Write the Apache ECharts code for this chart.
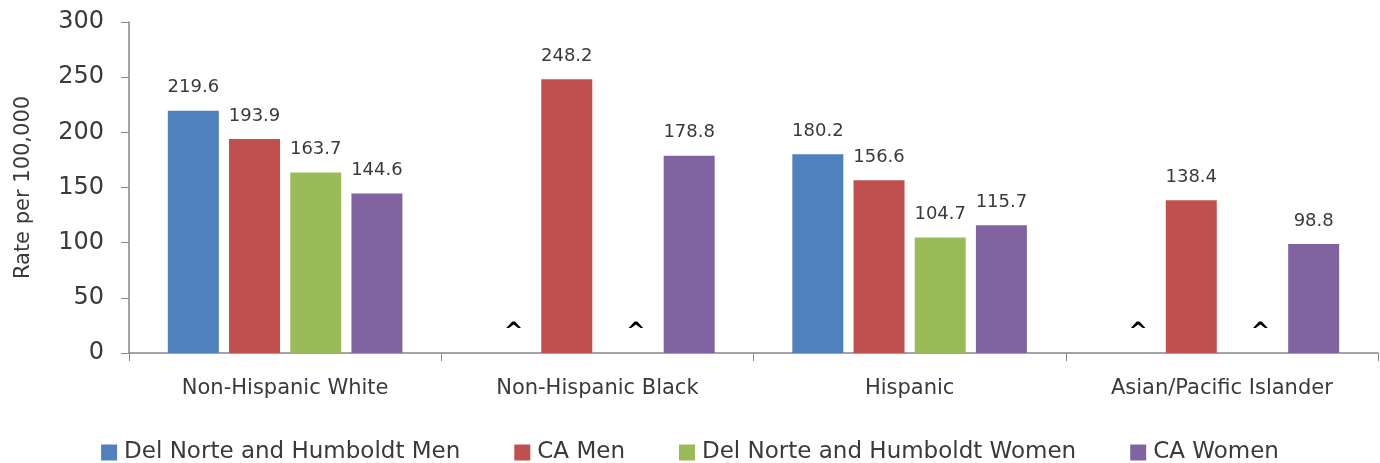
<!DOCTYPE html>
<html>
<head>
<meta charset="utf-8">
<script src="https://cdn.jsdelivr.net/npm/echarts@6/dist/echarts.min.js"></script>
<style>html,body{margin:0;padding:0;background:#fff}#c{width:1380px;height:463px}</style>
</head>
<body>
<div id="c"></div>
<script>
const categories = ['Non-Hispanic White', 'Non-Hispanic Black', 'Hispanic', 'Asian/Pacific Islander'];
const seriesNames = ['Del Norte and Humboldt Men', 'CA Men', 'Del Norte and Humboldt Women', 'CA Women'];
const dnMen = [219.6, null, 180.2, null];
const caMen = [193.9, 248.2, 156.6, 138.4];
const dnWomen = [163.7, null, 104.7, null];
const caWomen = [144.6, 178.8, 115.7, 98.8];
const colors = ['#4F81BD', '#C0504D', '#9BBB59', '#8064A2'];
const yTicks = [0, 50, 100, 150, 200, 250, 300];
const missingMark = '^';

const FONT = 'DejaVu Sans';
const TXT = '#3a3a3a';

function makeData(arr) {
  return arr.map(v => v === null
    ? { value: 0, label: { show: true, formatter: missingMark, fontWeight: 'bold', fontSize: 23, color: '#000', distance: 8, offset: [8, 0] } }
    : v);
}

const allSeries = [dnMen, caMen, dnWomen, caWomen].map((arr, i) => ({
  name: seriesNames[i],
  type: 'bar',
  data: makeData(arr),
  barWidth: 51,
  barGap: '20%',
  itemStyle: { color: colors[i] },
  label: { show: true, position: 'top', distance: 14, fontFamily: FONT, fontSize: 18, color: TXT,
           formatter: p => p.value.toFixed(1) }
}));

const chart = echarts.init(document.getElementById('c'), null, { renderer: 'canvas' });
chart.setOption({
  animation: false,
  grid: { left: 129, right: 2, top: 22, bottom: 110, containLabel: false, outerBoundsMode: 'none' },
  legend: {
    top: 436, left: 'center',
    itemWidth: 16, itemHeight: 16, itemGap: 54,
    icon: 'rect',
    textStyle: { fontFamily: FONT, fontSize: 23, color: TXT, padding: [0, 0, 0, 2] },
    data: seriesNames
  },
  xAxis: {
    type: 'category', data: categories,
    axisLine: { lineStyle: { color: '#868686', width: 1.5 } },
    axisTick: { show: true, length: 8, lineStyle: { color: '#868686' } },
    axisLabel: { fontFamily: FONT, fontSize: 21, color: TXT, margin: 25 }
  },
  yAxis: {
    type: 'value', min: yTicks[0], max: yTicks[yTicks.length - 1], interval: 50,
    name: 'Rate per 100,000', nameLocation: 'middle', nameRotate: 90, nameGap: 95,
    nameTextStyle: { fontFamily: FONT, fontSize: 21, color: TXT },
    axisLine: { show: true, lineStyle: { color: '#868686', width: 1.5 } },
    axisTick: { show: true, length: 8, lineStyle: { color: '#868686' } },
    splitLine: { show: false },
    axisLabel: { fontFamily: FONT, fontSize: 24, color: TXT, margin: 25 }
  },
  series: allSeries
});
</script>
</body>
</html>
